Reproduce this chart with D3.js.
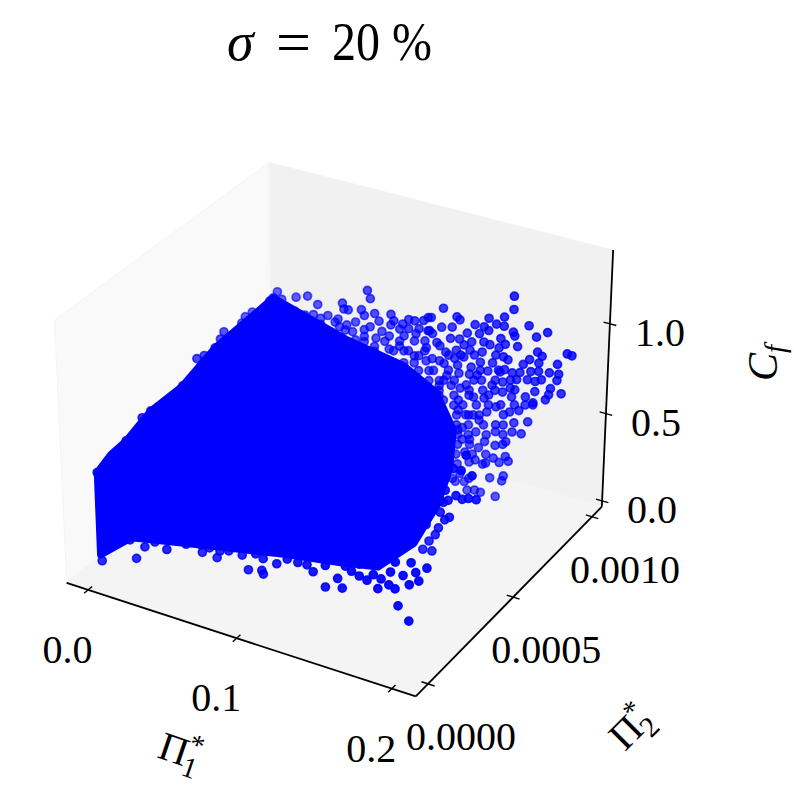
<!DOCTYPE html>
<html><head><meta charset="utf-8">
<style>html,body{margin:0;padding:0;background:#fff}svg{display:block}text{font-family:"Liberation Serif",serif;fill:#000}</style>
<script src="https://cdnjs.cloudflare.com/ajax/libs/d3/7.8.5/d3.min.js"></script>
</head><body><svg id="c" width="794" height="794"></svg>
<script>
// ---- axis limits and ticks ----
const pi1Domain=[-0.0148,0.215], pi2Domain=[-0.000069,0.001065], cfDomain=[-0.034,1.40];
const pi1Ticks=[0,0.1,0.2], pi2Ticks=[0,0.0005,0.001], cfTicks=[0,0.5,1];
const pi1TickLabels=["0.0","0.1","0.2"], pi2TickLabels=["0.0000","0.0005","0.0010"], cfTickLabels=["0.0","0.5","1.0"];

// ---- scatter values ----
const pi2Upper=0.000895;
const pi1Upper=[.011,.014,.024,.032,.039,.056,.057,.060,.073,.075,.069,.071,.078,.036,.041,.046,.053,.059,.089,.089,.097,.101,.111,.114,.075,.106,.023,.030,.063,.083,.114,.088,.079,
.170,.170,.124,.116,.133,.135,.145,.154,.164,.159,.164,.151,.180,.192,.185,.170,.171,.162,.140,.148,.154,.123,.130,.115,.117,.135,.129,.143,.151,.120,.113,.142,.133,.126,.150,.161,.173,.164,.186,.189,.205,.208,.149,.157,.167,.181,.177,.187,.199,.134,.143,.117,.125,.113,.154,.170,.175,.182,.187,.194,.200,.199,.185,.135,.127,.142,.145,.157,.164,.173,.180,.185,.195,.194,.202,.192,.184,.179,.170,.164,.151,.152,.145,.136,.130,.122,.135,.184,.181,.175,.172,.171,.177,.167,.165,.160,.160,.169,.163,.154,.153,.160,.149,.143,.147,.140,.167,.159,.169,.163,.154,.147,.143,.157,.166,.165,.137,.140,.134,.128,.161,.151,.147,.142,
.095,.101,.071,.054,.041,.031,.017,.125,.142,.147,.138,.138,.155,.140,.122,.162,.169,
.135,.142,.132,.125,.115,.105,.122,.132,.147,.165,.145,.149,.138,.135,.159,.088,.078,.065,.048,.034,.024,.098,.112,
.122,.138,.155,.108,.128,.136,.145,.159,.108,.118,.128,.149,.161,.165,.115,.122,.132,.150,.169,.189,.122,.142,.159,.172,.122,.132,.138,.155,.172,.179,.134,.140,.149,.165,.134,.142,.152,.160,.135,.142,.154,.165,.135,.143,.165,.134,.145,.154,.135,.152,.132,.143,
.051,.065,.081,.091,.105,.034,.044,.058,.071,.095,.101,.108,.058,.071,.085,.095,.105,.078,.091,.098,.112,.098,.105];
const cfUpper=[.856,.82,.854,.878,.846,.892,.861,.863,1.0,.959,.884,.856,.883,.783,.773,.80,.796,.776,.903,.844,.867,.901,.918,.941,.802,.833,.773,.767,.747,.794,.868,.779,.747,
1.183,1.111,1.015,.946,.988,.976,.972,1.027,1.056,1.006,1.006,.974,1.045,1.035,.994,.987,.968,.934,.914,.929,.96,.908,.924,.871,.859,.87,.86,.872,.89,.816,.771,.824,.803,.776,.832,.88,.915,.838,.914,.898,.948,.945,.773,.788,.828,.862,.826,.856,.877,.722,.732,.719,.711,.698,.736,.763,.776,.798,.811,.819,.825,.788,.75,.679,.648,.69,.664,.664,.698,.732,.748,.694,.734,.698,.722,.665,.629,.65,.629,.642,.621,.579,.569,.598,.599,.523,.528,.618,.515,.564,.488,.434,.438,.369,.459,.409,.549,.542,.568,.506,.336,.331,.291,.323,.376,.244,.285,.256,.262,.241,.215,.216,.194,.138,.171,.14,.113,.074,.06,.075,.04,.039,.042,.029,
.739,.727,.738,.754,.739,.736,.749,.504,.46,.529,.379,.777,.604,.625,.579,.749,.676,
.472,.572,.548,.616,.647,.707,.719,.755,.697,.909,.468,.448,.312,.36,.696,.706,.698,.705,.71,.705,.72,.803,.807,
.803,.844,.884,.715,.764,.783,.804,.836,.631,.655,.68,.728,.757,.769,.591,.607,.632,.675,.721,.769,.551,.60,.64,.673,.467,.492,.508,.548,.589,.605,.441,.457,.476,.517,.385,.404,.428,.448,.332,.348,.377,.405,.276,.295,.349,.217,.244,.265,.164,.204,.072,.099,
.774,.806,.847,.871,.903,.688,.713,.745,.777,.834,.85,.866,.678,.71,.743,.767,.791,.67,.703,.719,.751,.652,.668];

const pi2Middle=0.000498;
const pi1Middle=[.181,.190,.185,.172,.169,.173,.167,.160,.166,.158,.160,.162,.156,.164,.170,.167,.177,.175,.180,.183,.187,.170,.167];
const cfMiddle=[.427,.448,.442,.399,.38,.307,.32,.289,.23,.228,.14,.089,.083,.186,.45,.497,.438,.582,.583,.674,.572,.285,.387];

const pi2Lower=0.000158;
const pi1Lower=[.191,.185,.176,.172,.178,.185,.165,.158,.142,.131,.139,.123,.148,.162,.181,.167,.038,.059,.067,.076,.080,.089,.090,.099,.090,.106,.113,.119,.049,
.048,.054,.061,.085,.131,.114,.127,.144,.153,.173,.176,.186,.153,.189,.196];
const cfLower=[.313,.277,.23,.242,.142,.076,.202,.23,.143,.12,.189,.184,.253,.271,.317,.261,.115,.094,.153,.153,.081,.101,.083,.165,.17,.209,.209,.212,.098,
.139,.136,.137,.184,.24,.255,.27,.271,.306,.315,.377,.40,.24,.354,.397];

const pi2Front=0.00005;
const pi1Front=[.018,.024,.039,.014,.031];
const cfFront=[.082,.162,.187,.176,.208];

const pi1Ridge=[.001,0,0,0,0,0,0,0,0,0,0,0,0,0,0,0,0];
const pi2Ridge=[0,.00015,.000235,.00028,.00045,.00053,.00057,.00063,.00066,.00068,.00071,.00078,.0008,.00084,.00094,.00096,0];
const cfRidge=[.07,.605,.66,.66,.658,.745,.73,.725,.75,.775,.70,.745,.765,.76,.745,.747,.56];

// the saturated centre of the cloud: outline of the fully overlapped part
const pi1Core=[0,0,0,0,0,0,0,0,0,.058,.098,.120,.132,.130,.165,.150,.165,.140,.104,.061,.015];
const pi2Core=[0,0,.00007,.00015,.00028,.00045,.00063,.00084,.00096,.000895,.000895,.000895,.000895,.000895,.000498,.000498,.000158,.000158,.000158,.000158,.00005];
const cfCore=[.10,.56,.597,.605,.66,.658,.725,.737,.747,.695,.635,.537,.352,.123,.355,.099,.321,.28,.231,.159,.19];

// ---- 3-D projection (elevation 30, azimuth -60, eye distance 10) ----
const un=d3.scaleLinear().domain(pi1Domain).range([0,1]);
const vn=d3.scaleLinear().domain(pi2Domain).range([0,1]);
const wn=d3.scaleLinear().domain(cfDomain).range([0,1]);
const boxA=1.143, boxC=0.857, el=30*Math.PI/180, az=-60*Math.PI/180, eye=10, zoom=3500, cx=339, cy=417;
const n=[Math.cos(el)*Math.cos(az),Math.cos(el)*Math.sin(az),Math.sin(el)];
const r=[-n[1]/Math.hypot(n[0],n[1]),n[0]/Math.hypot(n[0],n[1]),0];
const up=[n[1]*r[2]-n[2]*r[1],n[2]*r[0]-n[0]*r[2],n[0]*r[1]-n[1]*r[0]];
const dot=(a,b)=>a[0]*b[0]+a[1]*b[1]+a[2]*b[2];
function projU(u,v,w){
  const p=[(u-.5)*boxA,(v-.5)*boxA,(w-.5)*boxC], d=eye-dot(p,n);
  return {x:cx+zoom*dot(p,r)/d,y:cy-zoom*dot(p,up)/d,d};
}
const proj=(a,b,c)=>projU(un(a),vn(b),wn(c));

const svg=d3.select("#c");
const line=d3.line().x(d=>d.x).y(d=>d.y);
// panes
const pane=(pts,fill)=>svg.append("path").attr("d",line(pts.map(p=>projU(...p)))+"Z").attr("fill",fill).attr("stroke","#f4f4f4").attr("stroke-width",1);
pane([[0,0,0],[0,1,0],[0,1,1],[0,0,1]],"#f9f9f9");
pane([[0,1,0],[1,1,0],[1,1,1],[0,1,1]],"#f1f1f1");
pane([[0,0,0],[1,0,0],[1,1,0],[0,1,0]],"#f4f4f4");

// points
const pts=[];
pi1Upper.forEach((v,i)=>pts.push(proj(v,pi2Upper,cfUpper[i])));
pi1Middle.forEach((v,i)=>pts.push(proj(v,pi2Middle,cfMiddle[i])));
pi1Lower.forEach((v,i)=>pts.push(proj(v,pi2Lower,cfLower[i])));
pi1Front.forEach((v,i)=>pts.push(proj(v,pi2Front,cfFront[i])));
pi1Ridge.forEach((v,i)=>pts.push(proj(v,pi2Ridge[i],cfRidge[i])));
const corePts=pi1Core.map((v,i)=>proj(v,pi2Core[i],cfCore[i]));
const alpha=d3.scaleLinear().domain([9.75,10.45]).range([.95,.6]).clamp(true);
svg.append("path").attr("d",line(corePts)+"Z").attr("fill","#0000ff").attr("stroke","#0000ff").attr("stroke-width",7).attr("stroke-linejoin","round");
svg.append("g").selectAll("circle").data(pts.slice().sort((a,b)=>b.d-a.d)).join("circle")
  .attr("cx",d=>d.x).attr("cy",d=>d.y).attr("r",4).attr("fill","#0000ff").attr("stroke","#0000ff").attr("stroke-width",1.7)
  .attr("fill-opacity",d=>alpha(d.d)).attr("stroke-opacity",d=>alpha(d.d));

// axes
const axisLine=(a,b)=>svg.append("path").attr("d",line([projU(...a),projU(...b)])).attr("stroke","#000").attr("stroke-width",1.8).attr("fill","none");
axisLine([0,0,0],[1,0,0]); axisLine([1,0,0],[1,1,0]); axisLine([1,1,0],[1,1,1]);
const tk=.018;
const tick=(a,b)=>svg.append("path").attr("d",line([projU(...a),projU(...b)])).attr("stroke","#000").attr("stroke-width",1.4).attr("fill","none");
function label(txt,x,y){
  svg.append("text").attr("x",x).attr("y",y).attr("text-anchor","middle").attr("font-size",40).text(txt);
}
pi1Ticks.forEach((t,i)=>{const u=un(t);tick([u,-tk,0],[u,tk,0]);const p=projU(u,0,0);label(pi1TickLabels[i],p.x-20.5,p.y+73);});
pi2Ticks.forEach((t,i)=>{const v=vn(t);tick([1-tk,v,0],[1+tk,v,0]);const p=projU(1,v,0);label(pi2TickLabels[i],p.x+33,p.y+66);});
cfTicks.forEach((t,i)=>{const w=wn(t);tick([1-tk,1,w],[1+tk,1,w]);const p=projU(1,1,w);label(cfTickLabels[i],p.x+50,p.y+22);});

// title
const titleText=(txt,x,y,size,style,sy)=>svg.append("text").attr("transform",`translate(${x},${y}) scale(1,${sy})`).attr("font-size",size).attr("font-style",style).text(txt);
titleText("σ",227,60,54,"italic",1);
titleText("=",276,63,62,"normal",1);
titleText("20",332,60,48,"normal",1.14);
titleText("%",392,60,48,"normal",1.14);

// axis titles
const t1=svg.append("text").attr("transform","translate(156,757) rotate(19)").attr("font-size",40);
t1.append("tspan").text("Π");
t1.append("tspan").attr("font-size",29).attr("dx",-1).attr("dy",9).text("1");
t1.append("tspan").attr("font-size",29).attr("dx",-15).attr("dy",-24).text("*");
const t2=svg.append("text").attr("transform","translate(625,752) rotate(-45)").attr("font-size",40);
t2.append("tspan").text("Π");
t2.append("tspan").attr("font-size",29).attr("dx",-1).attr("dy",9).text("2");
t2.append("tspan").attr("font-size",29).attr("dx",-15).attr("dy",-24).text("*");
const t3=svg.append("text").attr("transform","translate(777,381) rotate(-90)").attr("font-size",42).attr("font-style","italic");
t3.append("tspan").text("C");
t3.append("tspan").attr("font-size",29).attr("dy",8).text("f");
</script></body></html>
